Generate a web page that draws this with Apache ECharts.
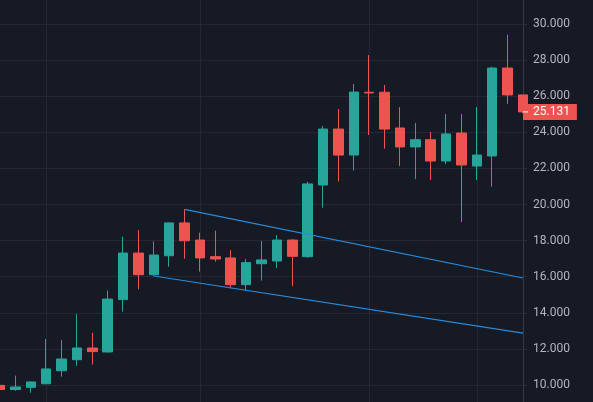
<!DOCTYPE html>
<html>
<head>
<meta charset="utf-8">
<title>candles</title>
<script src="https://cdn.jsdelivr.net/npm/echarts@6/dist/echarts.min.js"></script>
<style>
  html, body { margin: 0; padding: 0; background: #161a25; }
  #chart { width: 593px; height: 402px; }
</style>
</head>
<body>
<div id="chart"></div>
<script>
// bar labels (no dates visible in the picture)
const categories = ['1', '2', '3', '4', '5', '6', '7', '8', '9', '10', '11', '12',
  '13', '14', '15', '16', '17', '18', '19', '20', '21', '22', '23', '24', '25',
  '26', '27', '28', '29', '30', '31', '32', '33', '34', '35']

// candles
const opens = [9.98, 9.75, 9.87, 10.07, 10.79, 11.40, 12.05, 11.83, 14.73, 17.31, 16.11, 17.16,
  18.98, 18.03, 17.11, 17.04, 15.56, 16.72, 16.87, 18.03, 17.11, 21.08, 24.18, 22.74, 26.22,
  26.22, 24.24, 23.19, 23.59, 22.41, 23.96, 22.13, 22.69, 27.56, 26.07]
const closes = [9.75, 9.89, 10.17, 10.89, 11.44, 12.05, 11.85, 14.76, 17.31, 16.11, 17.20, 18.98,
  17.99, 17.04, 16.98, 15.56, 16.78, 16.93, 18.03, 17.13, 21.14, 24.18, 22.74, 26.23, 26.18,
  24.18, 23.19, 23.59, 22.41, 23.91, 22.19, 22.74, 27.56, 26.07, 25.131]
const lows = [9.70, 9.68, 9.57, 10.04, 10.46, 11.07, 11.13, 11.79, 14.06, 15.30, 16.04, 16.55,
  16.99, 16.28, 16.83, 15.36, 15.23, 15.78, 16.48, 15.48, 17.05, 19.82, 21.27, 21.87, 23.85,
  23.09, 22.13, 21.41, 21.36, 22.24, 19.03, 21.36, 20.99, 25.58, 25.05]
const highs = [10.02, 10.52, 10.19, 12.55, 12.49, 13.93, 12.90, 15.23, 18.22, 18.59, 17.96, 19.00,
  19.73, 18.44, 18.55, 17.48, 16.98, 17.98, 18.31, 18.08, 21.26, 24.35, 25.29, 26.68, 28.28,
  26.62, 25.40, 24.52, 24.02, 25.01, 25.01, 25.40, 27.63, 29.41, 26.07]

// drawn trend lines: [bar index, price]
const upperLine = [[12, 19.73], [34, 15.93]]
const lowerLine = [[10, 16.04], [34, 12.87]]

// last price tag
const lastPrice = 25.131

// bars that get a vertical grid line
const timeMarks = [3, 13, 24, 31]

const upColor = '#26a69a'
const downColor = '#ef5350'
const lineColor = '#2b8ad9'

const candleData = opens.map((o, i) => [o, closes[i], lows[i], highs[i]])

const myChart = echarts.init(document.getElementById('chart'))

const option = {
  backgroundColor: '#161a25',
  animation: false,
  textStyle: { fontFamily: 'Roboto' },
  grid: {
    left: 0,
    right: 70,
    top: -12.1,
    bottom: -19.1,
    containLabel: false,
    outerBoundsMode: 'none'
  },
  xAxis: {
    type: 'category',
    data: categories,
    boundaryGap: false,
    axisLine: { show: false },
    axisTick: { show: false },
    axisLabel: { show: false },
    splitLine: {
      show: true,
      interval: (index) => timeMarks.includes(index),
      lineStyle: { color: '#242834', width: 1 }
    }
  },
  yAxis: {
    type: 'value',
    position: 'right',
    min: 8,
    max: 32,
    interval: 2,
    axisLine: { show: true, lineStyle: { color: '#363a45' } },
    axisTick: { show: true, length: 4, lineStyle: { color: '#2a2e39' } },
    axisLabel: {
      margin: 10,
      color: '#b2b5be',
      fontSize: 12,
      fontFamily: 'Roboto',
      formatter: (v) => v.toFixed(3)
    },
    splitLine: { show: true, lineStyle: { color: '#242834', width: 1 } }
  },
  series: [
    {
      type: 'candlestick',
      data: candleData,
      barWidth: 10,
      clip: true,
      itemStyle: {
        color: upColor,
        color0: downColor,
        borderColor: upColor,
        borderColor0: downColor,
        borderWidth: 1
      }
    },
    {
      type: 'line',
      data: upperLine,
      symbol: 'none',
      clip: false,
      lineStyle: { color: lineColor, width: 1.2 },
      // price tag on the right scale
      markLine: {
        silent: true,
        symbol: 'none',
        lineStyle: { color: 'rgba(0,0,0,0)', width: 0 },
        data: [{ yAxis: lastPrice }],
        label: {
          show: true,
          position: 'end',
          distance: 0,
          formatter: '{d|}{v|' + lastPrice.toFixed(3) + '}',
          backgroundColor: downColor,
          padding: [1, 7, 1, 0],
          rich: {
            d: { width: 5, height: 1, backgroundColor: '#ffffff' },
            v: {
              color: '#ffffff',
              fontSize: 12,
              fontFamily: 'Roboto',
              lineHeight: 14,
              padding: [0, 0, 0, 5]
            }
          }
        }
      }
    },
    {
      type: 'line',
      data: lowerLine,
      symbol: 'none',
      lineStyle: { color: lineColor, width: 1.2 }
    }
  ]
}

myChart.setOption(option)
</script>
</body>
</html>
